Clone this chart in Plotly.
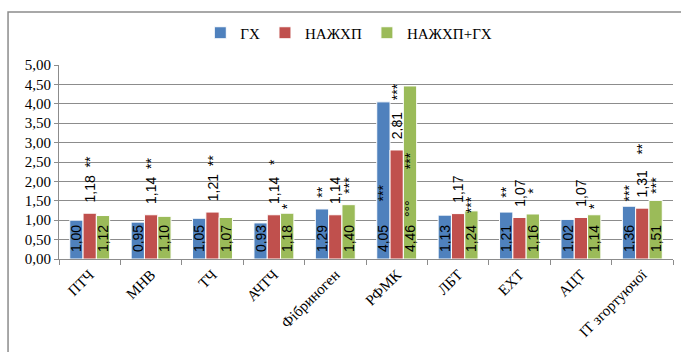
import plotly.graph_objects as go

# Coagulation indices (relative units) for three groups
categories = ["ПТЧ", "МНВ", "ТЧ", "АЧТЧ", "Фібриноген", "РФМК", "ЛБТ", "ЕХТ", "АЦТ", "ІТ згортуючої"]

series_names = ["ГХ", "НАЖХП", "НАЖХП+ГХ"]
gx = [1.00, 0.95, 1.05, 0.93, 1.29, 4.05, 1.13, 1.21, 1.02, 1.36]
nazhkhp = [1.18, 1.14, 1.21, 1.14, 1.14, 2.81, 1.17, 1.07, 1.07, 1.31]
nazhkhp_gx = [1.12, 1.10, 1.07, 1.18, 1.40, 4.46, 1.24, 1.16, 1.14, 1.51]

# Significance marks appended to each value label (leading non-breaking spaces separate them)
NB = "\u00a0"
marks_gx = ["", "", "", "", NB * 7 + "**", NB * 6 + "***", "", NB * 7 + "**", "", NB * 6 + "***"]
marks_nazhkhp = [NB * 2 + "**", NB * 2 + "**", NB * 2 + "**", NB * 3 + "*", "", NB * 3 + "***", "", "", "", NB * 4 + "**"]
marks_nazhkhp_gx = ["", "", "", NB * 4 + "*", NB * 8 + "***", NB * 2 + "°°°" + NB * 8 + "***",
                    NB * 3 + "***", NB * 8 + "*", NB * 4 + "*", NB * 8 + "***"]

# Label placement: the НАЖХП values are written above the bars, the others inside at the base
pos_gx = ["inside"] * len(categories)
pos_nazhkhp = ["outside"] * len(categories)
pos_nazhkhp_gx = ["inside"] * len(categories)

colors = ["#4f81bd", "#c0504d", "#9bbb59"]


def fmt(v):
    return f"{v:.2f}".replace(".", ",")


def labels(values, marks, positions):
    out = []
    for v, m, p in zip(values, marks, positions):
        lead = NB * 2 if p == "outside" else NB
        out.append(lead + fmt(v) + m)
    return out


data = [
    (gx, marks_gx, pos_gx),
    (nazhkhp, marks_nazhkhp, pos_nazhkhp),
    (nazhkhp_gx, marks_nazhkhp_gx, pos_nazhkhp_gx),
]

label_font = dict(family="Liberation Sans", size=14, color="black")
serif = "Liberation Serif, Times New Roman, serif"

fig = go.Figure()
for name, color, (vals, marks, pos) in zip(series_names, colors, data):
    fig.add_trace(go.Bar(
        name=name,
        x=categories,
        y=vals,
        marker=dict(color=color, line=dict(color="white", width=1)),
        text=labels(vals, marks, pos),
        textposition=pos,
        insidetextanchor="start",
        textangle=-90,
        constraintext="none",
        cliponaxis=False,
        textfont=label_font,
        insidetextfont=label_font,
        outsidetextfont=label_font,
        hoverinfo="x+y+name",
    ))

fig.update_layout(
    width=681,
    height=352,
    margin=dict(l=59, r=8, t=65, b=93),
    paper_bgcolor="white",
    plot_bgcolor="white",
    barmode="group",
    bargap=0.35,
    bargroupgap=0,
    separators=", ",
    font=dict(family=serif, size=15, color="black"),
    legend=dict(
        orientation="h",
        x=0.472, xanchor="center",
        y=1.165, yanchor="middle",
        font=dict(family=serif, size=15, color="black"),
        itemwidth=30,
        tracegroupgap=0,
        bgcolor="rgba(0,0,0,0)",
    ),
    xaxis=dict(
        type="category",
        tickangle=-45,
        tickfont=dict(family=serif, size=15, color="black"),
        showline=True,
        linecolor="#8c8c8c",
        linewidth=1,
        ticks="outside",
        tickson="boundaries",
        ticklen=5,
        tickcolor="#8c8c8c",
        showgrid=False,
    ),
    yaxis=dict(
        range=[0, 5],
        dtick=0.5,
        tickformat=".2f",
        tickfont=dict(family=serif, size=15, color="black"),
        showgrid=True,
        gridcolor="#8c8c8c",
        gridwidth=1,
        zeroline=False,
        showline=True,
        linecolor="#8c8c8c",
        linewidth=1,
        ticks="outside",
        ticklen=4,
        tickcolor="#8c8c8c",
    ),
    shapes=[dict(
        type="rect", xref="paper", yref="paper",
        x0=-0.083, x1=1.05, y0=-0.6, y1=1.273,
        line=dict(color="#8c8c8c", width=1.5),
        fillcolor="rgba(0,0,0,0)",
        layer="below",
    )],
)

fig.write_html("out.html")
